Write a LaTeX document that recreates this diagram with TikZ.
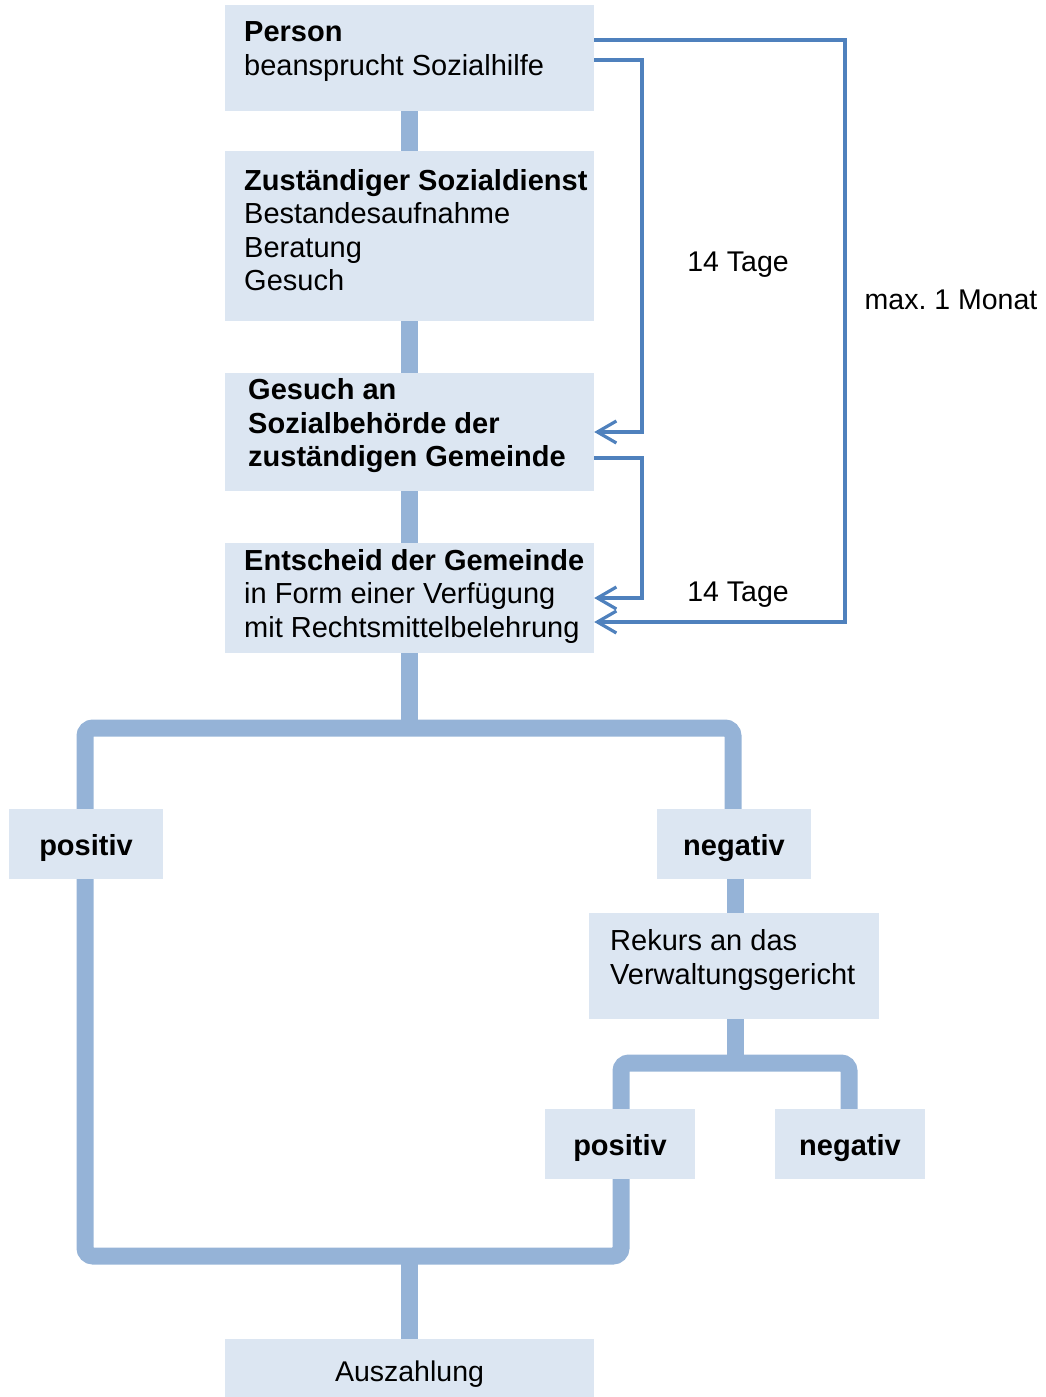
\documentclass[tikz,border=0pt]{standalone}
\usepackage{fontspec}
\setmainfont{Liberation Sans}
\usetikzlibrary{arrows.meta}
\definecolor{boxfill}{HTML}{DCE6F2}
\definecolor{thickline}{HTML}{95B3D7}
\definecolor{thinline}{HTML}{4F81BD}
\frenchspacing
\begin{document}
\begin{tikzpicture}[x=1pt,y=-1pt,
  box/.style={fill=boxfill, draw=none, inner sep=0pt},
  txt/.style={inner sep=0pt, align=left, font=\fontsize{29}{33.5}\selectfont},
  lbl/.style={inner sep=0pt, font=\fontsize{28.5}{33.5}\selectfont},
  blbl/.style={inner sep=0pt, font=\fontsize{29}{33.5}\selectfont\bfseries},
  flow/.style={draw=thickline, line width=17pt, rounded corners=8pt},
  timer/.style={draw=thinline, line width=3.2pt, -{Straight Barb[length=19pt,width=22pt]}}]
\useasboundingbox (0,0) rectangle (1045,1397);

% coordinates for junctions
\coordinate (j1) at (409,728);
\coordinate (j2) at (735,1063);
\coordinate (j3) at (409,1256);
\coordinate (xl) at (85,0);
\coordinate (xr) at (733,0);
\coordinate (xp) at (621,0);
\coordinate (xn) at (849,0);
\coordinate (r1) at (642,0);
\coordinate (r2) at (845,0);

% boxes (named)
\path (409.5,58) node[box, minimum width=369pt, minimum height=106pt] (person) {};
\path (409.5,236) node[box, minimum width=369pt, minimum height=170pt] (dienst) {};
\path (409.5,432) node[box, minimum width=369pt, minimum height=118pt] (gesuch) {};
\path (409.5,598) node[box, minimum width=369pt, minimum height=110pt] (entscheid) {};
\path (86,844) node[box, minimum width=154pt, minimum height=70pt] (pos1) {};
\path (734,844) node[box, minimum width=154pt, minimum height=70pt] (neg1) {};
\path (734,966) node[box, minimum width=290pt, minimum height=106pt] (rekurs) {};
\path (620,1144) node[box, minimum width=150pt, minimum height=70pt] (pos2) {};
\path (850,1144) node[box, minimum width=150pt, minimum height=70pt] (neg2) {};
\path (409.5,1368) node[box, minimum width=369pt, minimum height=58pt] (ausz) {};

% thick flow lines
\draw[flow] (person.south -| j1) -- (dienst.north -| j1);
\draw[flow] (dienst.south -| j1) -- (gesuch.north -| j1);
\draw[flow] (gesuch.south -| j1) -- (entscheid.north -| j1);
\draw[flow] (entscheid.south -| j1) -- (j1);
\draw[flow] (pos1.north -| xl) -- (xl |- j1) -- (xr |- j1) -- (neg1.north -| xr);
\draw[flow] (neg1.south -| j2) -- (rekurs.north -| j2);
\draw[flow] (rekurs.south -| j2) -- (j2);
\draw[flow] (pos2.north -| xp) -- (xp |- j2) -- (xn |- j2) -- (neg2.north -| xn);
\draw[flow] (pos1.south -| xl) -- (xl |- j3) -- (xp |- j3) -- (pos2.south -| xp);
\draw[flow] (j3) -- (ausz.north -| j3);

% boxes filled on top
\foreach \n in {person,dienst,gesuch,entscheid,pos1,neg1,rekurs,pos2,neg2,ausz}
  \fill[boxfill] (\n.north west) rectangle (\n.south east);

% texts
\node[txt, anchor=west] (persont) at (244,51.5) {\textbf{Person}\\beansprucht Sozialhilfe};
\node[txt, anchor=west] (dienstt) at (244,230) {\textbf{Zuständiger Sozialdienst}\\Bestandesaufnahme\\Beratung\\Gesuch};
\node[txt, anchor=west, font=\fontsize{29}{33.5}\selectfont\bfseries] (gesucht) at (248,426) {Gesuch an\\Sozialbehörde der\\zuständigen Gemeinde};
\node[txt, anchor=west] (entscheidt) at (244,596) {\textbf{Entscheid der Gemeinde}\\in Form einer Verfügung\\mit Rechtsmittelbelehrung};
\node[txt, anchor=west] (rekurst) at (610,960) {Rekurs an das\\Verwaltungsgericht};
\node[blbl, anchor=base] (pos1t) at (86,855) {positiv};
\node[blbl, anchor=base] (neg1t) at (734,855) {negativ};
\node[blbl, anchor=base] (pos2t) at (620,1155) {positiv};
\node[blbl, anchor=base] (neg2t) at (850,1155) {negativ};
\node[lbl, anchor=base] (ausztt) at (409.5,1381) {Auszahlung};

% time arrows
\coordinate (a1) at ([yshift=18pt]person.east);
\coordinate (a2) at ([yshift=-2pt]person.east);
\coordinate (a3) at ([yshift=-26pt]gesuch.east);
\coordinate (e1) at ([yshift=-24pt]entscheid.east);
\draw[timer] (a1) -- (a1 -| r2) -- (r2 |- e1) -- (e1);
\draw[timer] (a2) -- (a2 -| r1) -- (r1 |- gesuch.east) -- (gesuch.east);
\draw[timer] (a3) -- (a3 -| r1) -- (r1 |- entscheid.east) -- (entscheid.east);

\node[lbl, anchor=base] (t1) at (738,271) {14 Tage};
\node[lbl, anchor=base] (t2) at (738,601) {14 Tage};
\node[lbl, anchor=base] (t3) at (951,309) {max. 1 Monat};
\end{tikzpicture}
\end{document}
